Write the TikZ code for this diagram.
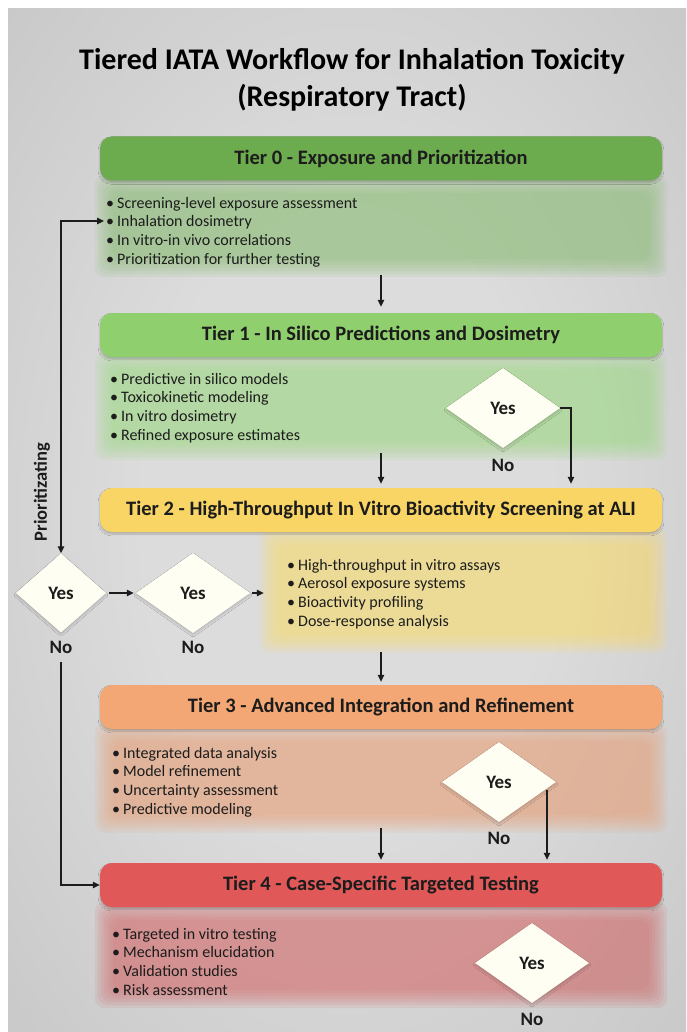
\documentclass[tikz,border=0pt]{standalone}
\usepackage{fontspec}
\setmainfont{Carlito}
\usetikzlibrary{shapes.geometric,arrows.meta,shadows.blur}
\definecolor{bgin}{HTML}{DCDCDC}
\definecolor{bgout}{HTML}{B2B2B2}
\definecolor{h0c}{HTML}{6DAB4F}
\definecolor{h1c}{HTML}{90CF6E}
\definecolor{h2c}{HTML}{F8D565}
\definecolor{h3c}{HTML}{F2A775}
\definecolor{h4c}{HTML}{E05858}
\definecolor{b0c}{HTML}{8CBE76}
\definecolor{b1c}{HTML}{9FD886}
\definecolor{b2c}{HTML}{FADB70}
\definecolor{b3c}{HTML}{E9A27A}
\definecolor{b4c}{HTML}{D46C6C}
\definecolor{ink}{HTML}{1C1C1C}
\pgfdeclareradialshading{bgshade}{\pgfpoint{0bp}{0bp}}{color(0bp)=(bgin); color(15bp)=(bgin); color(60bp)=(bgout); color(75bp)=(bgout)}
\newcommand\softfill[2]{%
  \foreach \i in {-5,-2,1,4,7,10,13}{%
    \fill[#2, opacity=0.13, rounded corners=10pt] ([shift={(\i,\i)}]#1.north west) rectangle ([shift={(-\i,-\i)}]#1.south east);
  }%
}
\begin{document}
\begin{tikzpicture}[x=1pt,y=-1pt,
  hdr/.style={rectangle, rounded corners=12pt, minimum width=562pt, minimum height=44pt, inner sep=0pt,
    font=\fontsize{20.5}{24}\selectfont\bfseries, text=ink,
    blur shadow={shadow xshift=0pt, shadow yshift=-2pt, shadow blur steps=6, shadow opacity=22}},
  bodyarea/.style={rectangle, inner sep=0pt, draw=none},
  blist/.style={anchor=north west, align=left, inner sep=0pt, font=\fontsize{16}{18.6}\selectfont, text=ink},
  dia/.style={diamond, minimum width=114pt, minimum height=80pt, inner sep=0pt, fill=white!95!yellow,
    font=\fontsize{19}{22}\selectfont\bfseries, text=ink,
    blur shadow={shadow xshift=0pt, shadow yshift=-2pt, shadow blur steps=6, shadow opacity=18}},
  lbl/.style={font=\fontsize{19}{22}\selectfont\bfseries, inner sep=0pt, text=ink},
  arr/.style={draw=ink, line width=1.1pt, -{Triangle[length=7pt,width=6.5pt]}},
  arrboth/.style={draw=ink, line width=1.1pt, {Triangle[length=7pt,width=6.5pt]}-{Triangle[length=7pt,width=6.5pt]}}
]
\useasboundingbox (0,0) rectangle (686,1032);
\fill[white] (0,0) rectangle (686,1032);
\shade[shading=bgshade] (8,9) rectangle (686,1032);

% title
\node[font=\fontsize{30}{37}\selectfont\bfseries, align=center, inner sep=0pt, text=black] (title) at (352,80) {Tiered IATA Workflow for Inhalation Toxicity\\(Respiratory Tract)};

% body areas
\node[bodyarea, minimum width=562pt, minimum height=92pt] (b0) at (381,226) {};
\node[bodyarea, minimum width=562pt, minimum height=98pt] (b1) at (381,406) {};
\node[bodyarea, minimum width=397pt, minimum height=116pt] (b2) at (463.5,590) {};
\node[bodyarea, minimum width=562pt, minimum height=99pt] (b3) at (381,778) {};
\node[bodyarea, minimum width=562pt, minimum height=96pt] (b4) at (381,955) {};
\softfill{b0}{b0c}
\softfill{b1}{b1c}
\softfill{b2}{b2c}
\softfill{b3}{b3c}
\softfill{b4}{b4c}

% headers
\node[hdr, fill=h0c] (h0) at (381,158.5) {Tier 0 - Exposure and Prioritization};
\node[hdr, fill=h1c] (h1) at (381,335) {Tier 1 - In Silico Predictions and Dosimetry};
\node[hdr, fill=h2c] (h2) at (381,510) {Tier 2 - High-Throughput In Vitro Bioactivity Screening at ALI};
\node[hdr, fill=h3c] (h3) at (381,707) {Tier 3 - Advanced Integration and Refinement};
\node[hdr, fill=h4c] (h4) at (381,885) {Tier 4 - Case-Specific Targeted Testing};

% bullet lists
\node[blist] (l0) at (106,195) {\strut\textbullet\hspace{3pt}Screening-level exposure assessment\\\textbullet\hspace{3pt}Inhalation dosimetry\\\textbullet\hspace{3pt}In vitro-in vivo correlations\\\textbullet\hspace{3pt}Prioritization for further testing};
\node[blist] (l1) at (110,371) {\strut\textbullet\hspace{3pt}Predictive in silico models\\\textbullet\hspace{3pt}Toxicokinetic modeling\\\textbullet\hspace{3pt}In vitro dosimetry\\\textbullet\hspace{3pt}Refined exposure estimates};
\node[blist] (l2) at (287,557) {\strut\textbullet\hspace{3pt}High-throughput in vitro assays\\\textbullet\hspace{3pt}Aerosol exposure systems\\\textbullet\hspace{3pt}Bioactivity profiling\\\textbullet\hspace{3pt}Dose-response analysis};
\node[blist] (l3) at (112,745) {\strut\textbullet\hspace{3pt}Integrated data analysis\\\textbullet\hspace{3pt}Model refinement\\\textbullet\hspace{3pt}Uncertainty assessment\\\textbullet\hspace{3pt}Predictive modeling};
\node[blist] (l4) at (112,926) {\strut\textbullet\hspace{3pt}Targeted in vitro testing\\\textbullet\hspace{3pt}Mechanism elucidation\\\textbullet\hspace{3pt}Validation studies\\\textbullet\hspace{3pt}Risk assessment};

% diamonds
\node[dia] (d1) at (503,408) {Yes};
\node[dia] (d3) at (499,782) {Yes};
\node[dia] (d4) at (532,963) {Yes};
\node[dia, minimum width=90pt, minimum height=79pt] (dl) at (61,593) {Yes};
\node[dia] (dm) at (193,593) {Yes};

% No labels
\node[lbl] (n1) at (503,465) {No};
\node[lbl] (n3) at (499,838) {No};
\node[lbl] (n4) at (532,1019) {No};
\node[lbl] (nl) at (61,647) {No};
\node[lbl] (nm) at (193,647) {No};

% side label
\node[lbl, rotate=90, font=\fontsize{18.5}{22}\selectfont\bfseries] (prio) at (42,492) {Prioritizating};

% connectors
\coordinate (p0) at (104,221);
\draw[arrboth] (dl.north) |- (p0);
\draw[arr] ([yshift=-3pt]b0.south) -- ([yshift=6pt]h1.north);
\draw[arr] ([yshift=2pt]b1.south) -- ([yshift=4pt]h2.north);
\draw[arr] (d1.east) -| ([xshift=190pt,yshift=4pt]h2.north);
\draw[arr, shorten <=3pt, shorten >=2pt] (dl.east) -- (dm.west);
\draw[arr, shorten <=2pt, shorten >=1pt] (dm.east) -- (dm.east -| b2.west);
\draw[arr] (b2.south -| h3.north) ++(0,4) -- ([yshift=3pt]h3.north);
\draw[arr] (b3.south) -- ([yshift=3pt]h4.north);
\draw[arr] ([xshift=48pt,yshift=-8pt]d3.center) -- ([xshift=166pt,yshift=3pt]h4.north);
\draw[arr] ([yshift=-9pt]nl.south) |- (h4.west);
\end{tikzpicture}
\end{document}
